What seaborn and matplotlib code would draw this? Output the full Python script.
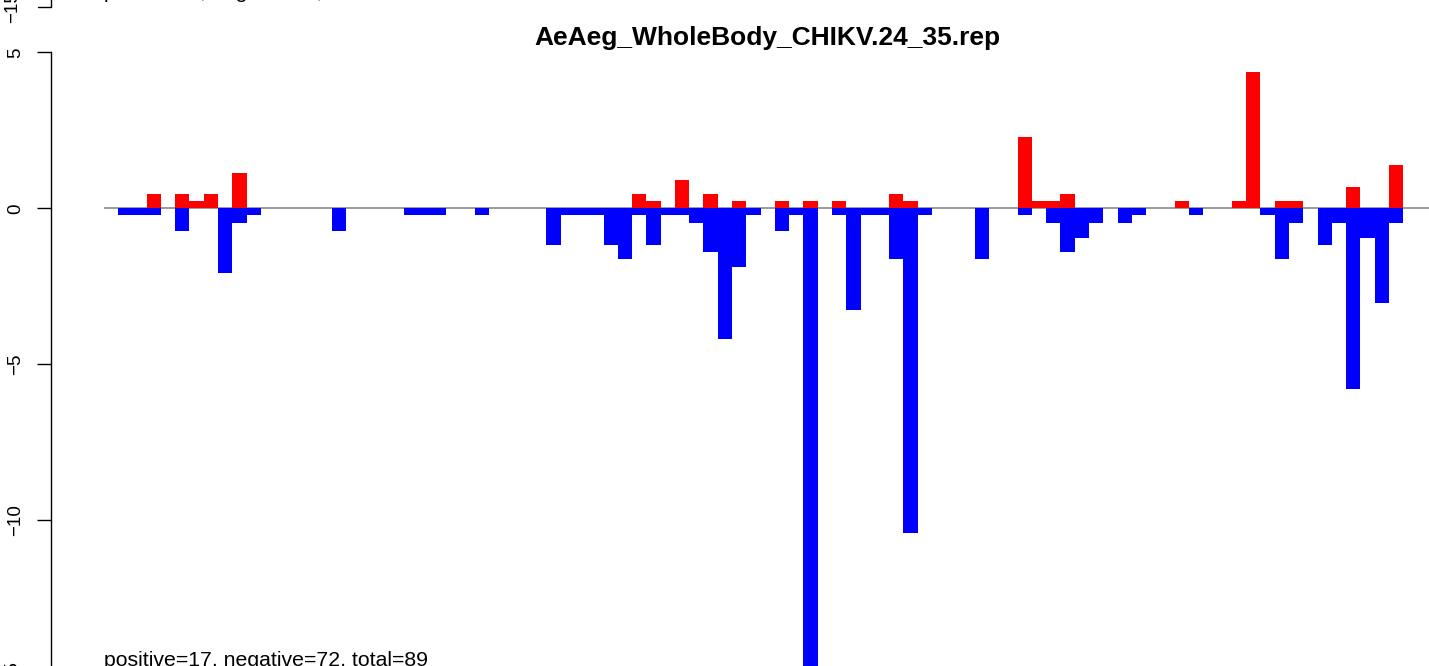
"""Signed bar profile for AeAeg_WholeBody_CHIKV.24_35.rep."""

import matplotlib
matplotlib.use("Agg")
import matplotlib.pyplot as plt
from matplotlib.lines import Line2D
import seaborn as sns


sns.set_theme(style="white")
plt.rcParams["font.family"] = ["Liberation Sans", "DejaVu Sans"]
plt.rcParams["axes.unicode_minus"] = True
plt.rcParams["text.color"] = "black"
plt.rcParams["ytick.color"] = "black"
plt.rcParams["ytick.labelcolor"] = "black"

title = "AeAeg_WholeBody_CHIKV.24_35.rep"
summary = "positive=17, negative=72, total=89"
prev_summary = "positive=4, negative=9, total=13"

slots = list(range(90))

pos_vals = [
    0, 0, 0.46, 0, 0.46, 0.23, 0.46, 0, 1.13, 0,
    0, 0, 0, 0, 0, 0, 0, 0, 0, 0,
    0, 0, 0, 0, 0, 0, 0, 0, 0, 0,
    0, 0, 0, 0, 0, 0, 0.46, 0.23, 0, 0.91,
    0, 0.46, 0, 0.23, 0, 0, 0.23, 0, 0.23, 0,
    0.23, 0, 0, 0, 0.46, 0.23, 0, 0, 0, 0,
    0, 0, 0, 2.29, 0.23, 0.23, 0.46, 0, 0, 0,
    0, 0, 0, 0, 0.23, 0, 0, 0, 0.23, 4.37,
    0, 0.23, 0.23, 0, 0, 0, 0.68, 0, 0, 1.39,
]

neg_vals = [
    -0.23, -0.23, -0.23, 0, -0.72, 0, 0, -2.09, -0.46, -0.23,
    0, 0, 0, 0, 0, -0.72, 0, 0, 0, 0,
    -0.23, -0.23, -0.23, 0, 0, -0.23, 0, 0, 0, 0,
    -1.17, -0.23, -0.23, -0.23, -1.17, -1.62, -0.23, -1.17, -0.23, -0.23,
    -0.46, -1.39, -4.18, -1.87, -0.23, 0, -0.72, -0.23, -15.5, 0,
    -0.23, -3.25, -0.23, -0.23, -1.62, -10.40, -0.23, 0, 0, 0,
    -1.62, 0, 0, -0.23, 0, -0.46, -1.40, -0.94, -0.46, 0,
    -0.46, -0.23, 0, 0, 0, -0.23, 0, 0, 0, 0,
    -0.23, -1.62, -0.46, 0, -1.17, -0.46, -5.79, -0.94, -3.03, -0.46,
]

y_ticks = [-10, -5, 0, 5]

W, H, DPI = 1429, 666, 100
PX = 72 / DPI

fig = plt.figure(figsize=(W / DPI, H / DPI), dpi=DPI)
ax = fig.add_axes([104 / W, 0, 1 - 104 / W, 1])

ax.axhline(0, color="#808080", linewidth=1.1, zorder=0.5)
sns.barplot(x=slots, y=pos_vals, color="#ff0000", saturation=1, width=1,
            linewidth=0, errorbar=None, ax=ax)
sns.barplot(x=slots, y=neg_vals, color="#0000ff", saturation=1, width=1,
            linewidth=0, errorbar=None, ax=ax)

ax.set_xticks([])
ax.set_xlabel("")
ax.set_ylabel("")
ax.set_yticks(y_ticks)

# R-style plot region: 14.28 px per bar, 31.18 px per unit, zero at row 208
# (limits set after the ticks, since set_yticks widens the view)
bar_px = 14.28
ax.set_xlim(-0.5 - 14 / bar_px, -0.5 + (W - 118) / bar_px)
unit_px = 31.18
zero_px = 208.3
ax.set_ylim(-(H - zero_px) / unit_px, zero_px / unit_px)

for side in ["top", "right", "bottom"]:
    ax.spines[side].set_visible(False)
ax.spines["left"].set_position(("outward", 53 * PX))
ax.spines["left"].set_bounds(-15, 5)
ax.spines["left"].set_linewidth(1.0)
ax.spines["left"].set_color("black")
ax.tick_params(axis="y", left=True, direction="out", length=14 * PX, width=1.0,
               color="black", labelcolor="black", pad=13 * PX, labelsize=13.5,
               labelrotation=90)
for lbl in ax.get_yticklabels():
    lbl.set_va("center")

fig.text(767 / W, 1 - 45 / H, title, ha="center", va="baseline",
         fontsize=19, fontweight="bold", color="black")
fig.text(104 / W, 1 - 665.5 / H, summary, ha="left", va="baseline",
         fontsize=15.3, color="black")

# bits of the neighbouring panels that the crop cuts through
fig.text(104 / W, 1 + 1.5 / H, prev_summary, ha="left", va="baseline",
         fontsize=15.3, color="black")
fig.text(13 / W, 1 - 7 / H, "\u221215", rotation=90, ha="center", va="center",
         fontsize=13.5, color="black")
fig.text(13 / W, 1 - 677 / H, "\u221215", rotation=90, ha="center", va="center",
         fontsize=13.5, color="black")
fig.add_artist(Line2D([38 / W, 51 / W, 51 / W], [1 - 7 / H, 1 - 7 / H, 1 + 2 / H],
                      transform=fig.transFigure, color="black", linewidth=1.0))

fig.savefig("out.png", dpi=DPI)
plt.close(fig)
